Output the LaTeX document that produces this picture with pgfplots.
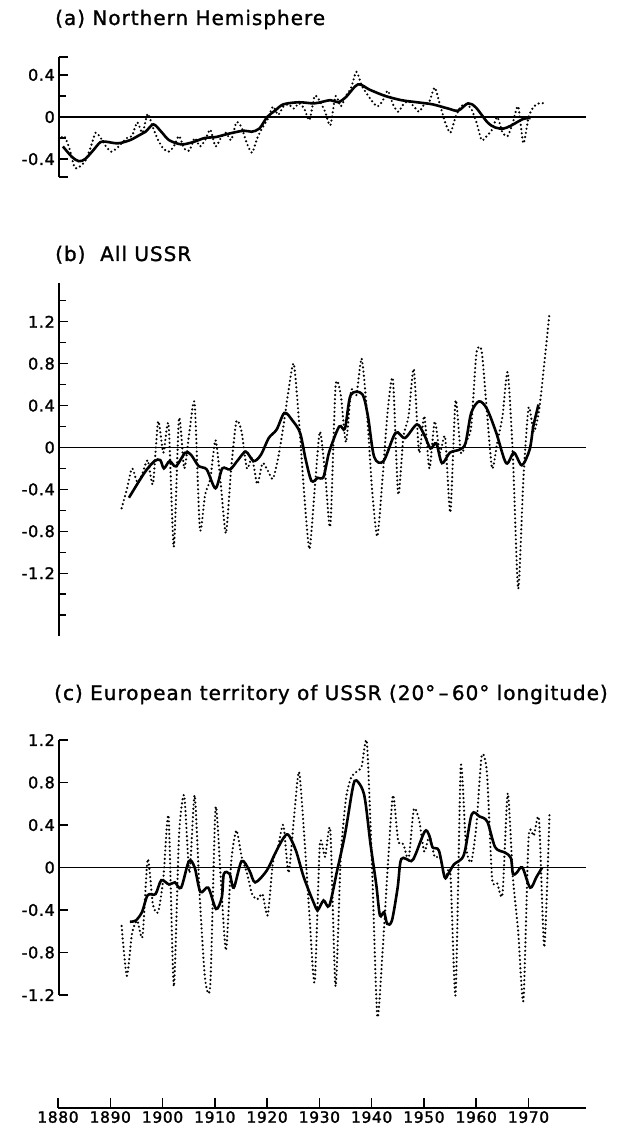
\documentclass[border=0pt]{standalone}
\usepackage{pgfplots}
\pgfplotsset{compat=1.18}
\usepackage{fontspec}
\setmainfont{DejaVu Sans}[FakeBold=1.2]
\newfontfamily\titlefont{DejaVu Sans}[FakeBold=1.3, LetterSpace=5]
\newfontfamily\tickfont{DejaVu Sans}[FakeBold=1.6, LetterSpace=4]

\pgfplotsset{
  panel/.style={
    scale only axis, width=527pt, xmin=1880, xmax=1981,
    axis x line=none, axis y line*=left,
    axis line style={line width=1.7pt},
    tick align=inside, clip=false,
    major tick length=9pt, minor tick length=7pt,
    every tick/.style={black, line width=1.3pt},
    yticklabel style={font=\tickfont\fontsize{16}{16}\selectfont, inner sep=1pt, xshift=-3pt},
  },
  ann/.style={black, line width=2.4pt, dash pattern=on 0pt off 4.2pt, line cap=round, smooth, tension=0.4},
  run/.style={black, line width=2.6pt, smooth, tension=0.5},
  zero/.style={black, line width=1.5pt},
}

\begin{document}
\begin{tikzpicture}
\path[use as bounding box] (0pt,0pt) rectangle (616pt,-1131pt);

\node[anchor=base west, font=\titlefont\fontsize{20}{20}\selectfont, inner sep=0pt] at (55pt,-25pt) {(a) Northern Hemisphere};
\node[anchor=base west, font=\titlefont\fontsize{20}{20}\selectfont, inner sep=0pt] at (55pt,-261pt) {(b)\ \ All USSR};
\node[anchor=base west, font=\titlefont\fontsize{20}{20}\selectfont, inner sep=0pt] at (54pt,-700pt) {(c) European territory of USSR (20°\,–\,60° longitude)};

% ---------------- (a)
\begin{axis}[panel, at={(59pt,-177pt)}, anchor=south west, height=120pt,
  ymin=-0.57, ymax=0.57,
  ytick={-0.57,-0.4,0,0.4,0.57}, yticklabels={,-0.4,0,0.4,},
  minor ytick={-0.2,0.2}]
\addplot[zero] coordinates {(1880,0) (1981,0)};
\addplot[ann] coordinates {
(1880,-0.22) (1881,-0.18) (1882,-0.30) (1883,-0.48) (1884,-0.47) (1885,-0.42)
(1886,-0.30) (1887,-0.15) (1888,-0.20) (1889,-0.28) (1890,-0.33) (1891,-0.30)
(1892,-0.25) (1893,-0.20) (1894,-0.18) (1895,-0.05) (1896,-0.15) (1897,0.03)
(1898,-0.10) (1899,-0.22) (1900,-0.30) (1901,-0.33) (1902,-0.28) (1903,-0.18)
(1904,-0.30) (1905,-0.32) (1906,-0.20) (1907,-0.28) (1908,-0.22) (1909,-0.12)
(1910,-0.28) (1911,-0.20) (1912,-0.15) (1913,-0.22) (1914,-0.05) (1915,-0.10)
(1916,-0.25) (1917,-0.34) (1918,-0.20) (1919,-0.10) (1920,-0.02) (1921,0.10)
(1922,0.02) (1923,0.10) (1924,0.12) (1925,0.08) (1926,0.13) (1927,0.08)
(1928,-0.03) (1929,0.20) (1930,0.15) (1931,0.05) (1932,-0.08) (1933,0.20)
(1934,0.10) (1935,0.20) (1936,0.28) (1937,0.43) (1938,0.30) (1939,0.22)
(1940,0.15) (1941,0.10) (1942,0.15) (1943,0.25) (1944,0.12) (1945,0.05)
(1946,0.12) (1947,0.15) (1948,0.10) (1949,0.05) (1950,0.12) (1951,0.15)
(1952,0.28) (1953,0.12) (1954,-0.05) (1955,-0.15) (1956,0.00) (1957,0.10)
(1958,0.12) (1959,0.08) (1960,-0.05) (1961,-0.22) (1962,-0.18) (1963,-0.12)
(1964,0.00) (1965,-0.15) (1966,-0.18) (1967,-0.05) (1968,0.10) (1969,-0.25)
(1970,0.00) (1971,0.10) (1972,0.13) (1973,0.13)};
\addplot[run] coordinates {
(1880.75,-0.28) (1882.5,-0.38) (1883.8,-0.42) (1885.0,-0.40) (1886.5,-0.32)
(1887.9,-0.24) (1889.0,-0.235) (1891.3,-0.25) (1893.6,-0.22) (1895.5,-0.17)
(1896.6,-0.14) (1898.1,-0.07) (1899.6,-0.14) (1901.1,-0.22) (1903.4,-0.26)
(1905.6,-0.24) (1907.9,-0.20) (1910.1,-0.19) (1912.4,-0.16) (1915.4,-0.13)
(1916.9,-0.14) (1918.4,-0.11) (1919.9,0.00) (1921.4,0.06) (1923.0,0.12)
(1926.0,0.14) (1929.0,0.13) (1932.0,0.16) (1933.5,0.14) (1935.0,0.19)
(1937.3,0.31) (1939.5,0.26) (1942.5,0.20) (1945.6,0.16) (1948.6,0.14)
(1951.6,0.12) (1954.6,0.08) (1956.5,0.06) (1958.4,0.13) (1959.9,0.09)
(1962.1,-0.05) (1963.6,-0.10) (1965.2,-0.11) (1966.7,-0.08) (1968.9,-0.02)
(1970.4,-0.01)};
\end{axis}

% ---------------- (b)
\begin{axis}[panel, at={(59pt,-636pt)}, anchor=south west, height=353pt,
  ymin=-1.80, ymax=1.57,
  ytick={-1.2,-0.8,-0.4,0,0.4,0.8,1.2},
  yticklabels={-1.2,-0.8,-0.4,0,0.4,0.8,1.2},
  minor ytick={-1.6,-1.4,-1.0,-0.6,-0.2,0.2,0.6,1.0,1.4}]
\addplot[zero] coordinates {(1880,0) (1981,0)};
\addplot[ann] coordinates {
(1892,-0.58) (1893,-0.40) (1894,-0.20) (1895,-0.33) (1896,-0.25) (1897,-0.12)
(1898,-0.35) (1899,0.25) (1900,-0.05) (1901,0.22) (1902,-0.95) (1903,0.28)
(1904,-0.20) (1905,0.15) (1906,0.42) (1907,-0.78) (1908,-0.45) (1909,-0.30)
(1910,0.07) (1911,-0.35) (1912,-0.82) (1913,-0.20) (1914,0.25) (1915,0.15)
(1916,-0.20) (1917,-0.10) (1918,-0.35) (1919,-0.15) (1920,-0.22) (1921,-0.30)
(1922,-0.10) (1923,0.20) (1924,0.55) (1925,0.80) (1926,0.25) (1927,-0.45)
(1928,-0.97) (1929,-0.40) (1930,0.15) (1931,-0.25) (1932,-0.75) (1933,0.58)
(1934,0.50) (1935,0.05) (1936,0.55) (1937,0.50) (1938,0.85) (1939,0.35)
(1940,-0.40) (1941,-0.85) (1942,-0.30) (1943,0.35) (1944,0.65) (1945,-0.45)
(1946,0.10) (1947,0.30) (1948,0.75) (1949,-0.05) (1950,0.30) (1951,-0.20)
(1952,0.25) (1953,-0.05) (1954,0.10) (1955,-0.62) (1956,0.45) (1957,-0.05)
(1958,0.05) (1959,0.20) (1960,0.90) (1961,0.92) (1962,0.35) (1963,-0.20)
(1964,0.05) (1965,0.30) (1966,0.72) (1967,-0.10) (1968,-1.35) (1969,-0.30)
(1970,0.38) (1971,0.15) (1972,0.35) (1973,0.80) (1974,1.28)};
\addplot[run] coordinates {
(1893.4,-0.48) (1896.4,-0.24) (1898.3,-0.13) (1899.4,-0.12) (1900.1,-0.20)
(1901.2,-0.13) (1902.4,-0.18) (1904.2,-0.05) (1905.3,-0.07) (1906.8,-0.18)
(1908.3,-0.21) (1910.0,-0.39) (1911.3,-0.20) (1912.8,-0.21) (1914.3,-0.12)
(1915.8,-0.04) (1917.3,-0.13) (1918.7,-0.07) (1920.2,0.09) (1921.7,0.17)
(1923.2,0.33) (1924.7,0.26) (1926.2,0.14) (1927.3,-0.12) (1928.4,-0.32)
(1929.6,-0.29) (1930.7,-0.28) (1931.8,-0.04) (1933.7,0.20) (1934.8,0.18)
(1935.9,0.50) (1938.1,0.51) (1939.2,0.30) (1940.4,-0.09) (1942.2,-0.13)
(1944.5,0.14) (1946.3,0.09) (1948.6,0.22) (1950.0,0.12) (1951.2,-0.01)
(1952.3,0.04) (1953.4,-0.15) (1954.9,-0.05) (1956.8,-0.02) (1957.9,0.04)
(1959.0,0.33) (1960.5,0.44) (1962.0,0.37) (1963.8,0.14) (1965.7,-0.15)
(1967.2,-0.05) (1968.7,-0.17) (1970.2,-0.02) (1970.9,0.20) (1971.9,0.41)};
\end{axis}

% ---------------- (c)
\begin{axis}[panel, at={(59pt,-995pt)}, anchor=south west, height=255pt,
  ymin=-1.2, ymax=1.2,
  ytick={-1.2,-0.8,-0.4,0,0.4,0.8,1.2},
  yticklabels={-1.2,-0.8,-0.4,0,0.4,0.8,1.2}]
\addplot[zero] coordinates {(1880,0) (1981,0)};
\addplot[ann] coordinates {
(1892,-0.55) (1893,-1.02) (1894,-0.62) (1895,-0.50) (1896,-0.65) (1897,0.08)
(1898,-0.35) (1899,-0.42) (1900,-0.10) (1901,0.48) (1902,-1.12) (1903,0.30)
(1904,0.68) (1905,-0.05) (1906,0.68) (1907,-0.30) (1908,-1.05) (1909,-1.10)
(1910,0.56) (1911,-0.10) (1912,-0.78) (1913,0.05) (1914,0.35) (1915,0.10)
(1916,-0.05) (1917,-0.25) (1918,-0.30) (1919,-0.25) (1920,-0.45) (1921,0.05)
(1922,0.20) (1923,0.40) (1924,-0.05) (1925,0.45) (1926,0.90) (1927,0.30)
(1928,-0.45) (1929,-1.08) (1930,0.22) (1931,0.10) (1932,0.35) (1933,-1.12)
(1934,0.10) (1935,0.65) (1936,0.85) (1937,0.90) (1938,0.95) (1939,1.18)
(1940,0.00) (1941,-1.40) (1942,-0.80) (1943,0.00) (1944,0.68) (1945,0.25)
(1946,0.22) (1947,0.08) (1948,0.55) (1949,0.45) (1950,0.15) (1951,0.30)
(1952,0.10) (1953,0.10) (1954,-0.10) (1955,-0.05) (1956,-1.20) (1957,0.95)
(1958,0.20) (1959,0.05) (1960,0.40) (1961,1.05) (1962,0.90) (1963,-0.10)
(1964,-0.15) (1965,-0.25) (1966,0.70) (1967,-0.10) (1968,-0.60) (1969,-1.25)
(1970,0.28) (1971,0.30) (1972,0.45) (1973,-0.75) (1974,0.50)};
\addplot[run] coordinates {
(1893.6,-0.51) (1894.7,-0.50) (1895.9,-0.42) (1897.0,-0.26) (1898.5,-0.25)
(1899.6,-0.12) (1901.1,-0.16) (1902.2,-0.14) (1903.4,-0.19) (1904.9,0.06)
(1906.0,0.00) (1907.1,-0.23) (1908.6,-0.19) (1910.1,-0.39) (1911.2,-0.28)
(1911.6,-0.06) (1912.7,-0.06) (1913.5,-0.19) (1915.0,0.06) (1916.5,-0.03)
(1917.6,-0.14) (1919.8,-0.03) (1921.3,0.12) (1922.8,0.26) (1923.9,0.31)
(1925.4,0.16) (1926.9,-0.09) (1928.8,-0.33) (1929.6,-0.40) (1930.7,-0.31)
(1931.8,-0.36) (1933.3,-0.03) (1934.8,0.31) (1936.3,0.75) (1937.0,0.82)
(1938.5,0.68) (1939.7,0.22) (1940.8,-0.16) (1941.5,-0.45) (1942.3,-0.42)
(1942.9,-0.53) (1943.8,-0.50) (1944.9,-0.19) (1945.6,0.08) (1947.5,0.06)
(1948.3,0.12) (1950.1,0.34) (1950.9,0.31) (1951.6,0.19) (1952.8,0.16)
(1953.9,-0.09) (1954.6,-0.06) (1955.7,0.03) (1957.6,0.12) (1959.1,0.50)
(1960.6,0.48) (1962.1,0.43) (1963.6,0.19) (1965.5,0.14) (1966.6,0.09)
(1967.0,-0.06) (1967.7,-0.05) (1968.8,0.00) (1970.3,-0.19) (1971.5,-0.09)
(1972.6,0.00)};
\end{axis}

% ---------------- shared x axis
\begin{axis}[scale only axis, at={(58pt,-1108pt)}, anchor=south west,
  width=528pt, height=20pt, xmin=1880, xmax=1981, ymin=0, ymax=1,
  axis y line=none, axis x line*=bottom,
  axis line style={line width=1.5pt},
  tick align=inside, major tick length=10pt,
  every tick/.style={black, line width=1.5pt},
  xtick={1880,1890,1900,1910,1920,1930,1940,1950,1960,1970},
  xticklabels={1880,1890,1900,1910,1920,1930,1940,1950,1960,1970},
  xticklabel style={font=\tickfont\fontsize{15.5}{15.5}\selectfont, inner sep=1pt, yshift=-2pt}]
\addplot[draw=none] coordinates {(1880,0) (1981,0)};
\end{axis}
\end{tikzpicture}
\end{document}
